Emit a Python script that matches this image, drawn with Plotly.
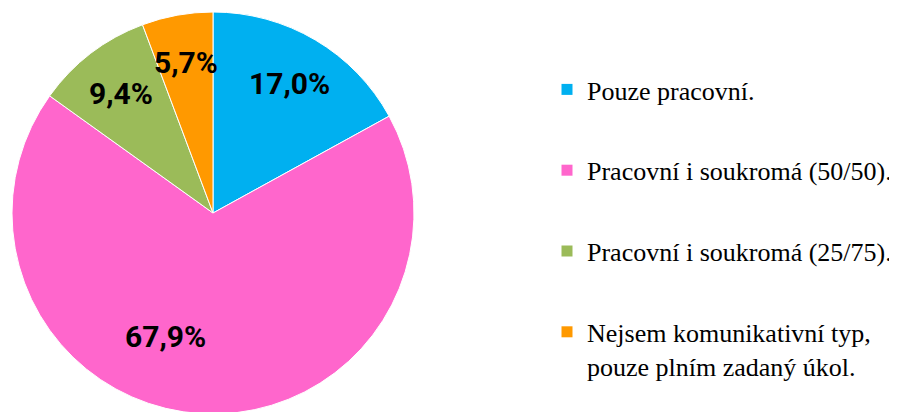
import math

import plotly.graph_objects as go

# data
categories = [
    "Pouze pracovní.",
    "Pracovní i soukromá (50/50).",
    "Pracovní i soukromá (25/75).",
    "Nejsem komunikativní typ,<br>pouze plním zadaný úkol.",
]
shares = [17.0, 67.9, 9.4, 5.7]
colors = ['#00B0F0', '#FF66CC', '#9BBB59', '#FF9900']

# layout (pixels, page body adds an 8px margin)
OFF = 8
W, H = 897, 420
cx, cy, radius = 213 - OFF, 213 - OFF, 201
label_k = [0.75, 0.66, 0.75, 0.76]          # label distance as fraction of radius
label_turn = [0, 17.4, 0, 0]                # nudge in degrees, clockwise

fig = go.Figure()
fig.add_trace(go.Pie(
    labels=categories,
    values=shares,
    sort=False,
    direction='clockwise',
    rotation=0,
    marker=dict(colors=colors, line=dict(color='white', width=1)),
    textinfo='none',
    hoverinfo='label+percent',
    showlegend=False,
    domain=dict(x=[(cx - radius) / W, (cx + radius) / W],
                y=[(H - cy - radius) / H, (H - cy + radius) / H]),
))

# legend entries (one group each, so the gap can be set)
for name, col in zip(categories, colors):
    fig.add_trace(go.Scatter(
        x=[None], y=[None], mode='markers', name=name,
        legendgroup=name,
        marker=dict(symbol='square', size=11, color=col),
    ))

# percentage labels placed along each slice
total = sum(shares)
start = 0.0
for i, v in enumerate(shares):
    mid = (start + v / 2) / total * 360 + label_turn[i]
    start += v
    a = math.radians(mid)
    px_ = cx + radius * label_k[i] * math.sin(a)
    py_ = cy - radius * label_k[i] * math.cos(a)
    fig.add_annotation(
        x=px_ / W, y=1 - py_ / H, xref='paper', yref='paper',
        xanchor='center', yanchor='middle',
        text=f"{v:.1f}".replace('.', ',') + '%',
        showarrow=False,
        font=dict(family='Roboto', size=30, color='black', weight='bold'),
    )

fig.update_layout(
    width=W, height=H,
    margin=dict(l=0, r=0, t=0, b=0),
    paper_bgcolor='white',
    plot_bgcolor='white',
    xaxis=dict(visible=False),
    yaxis=dict(visible=False),
    legend=dict(
        x=(547 - OFF) / W, xanchor='left',
        y=1 - (66 - OFF) / H, yanchor='top',
        font=dict(family='Liberation Serif', size=26, color='black'),
        tracegroupgap=44,
        valign='top',
        itemwidth=30,
        bgcolor='rgba(0,0,0,0)',
    ),
)

fig.write_html("out.html")
